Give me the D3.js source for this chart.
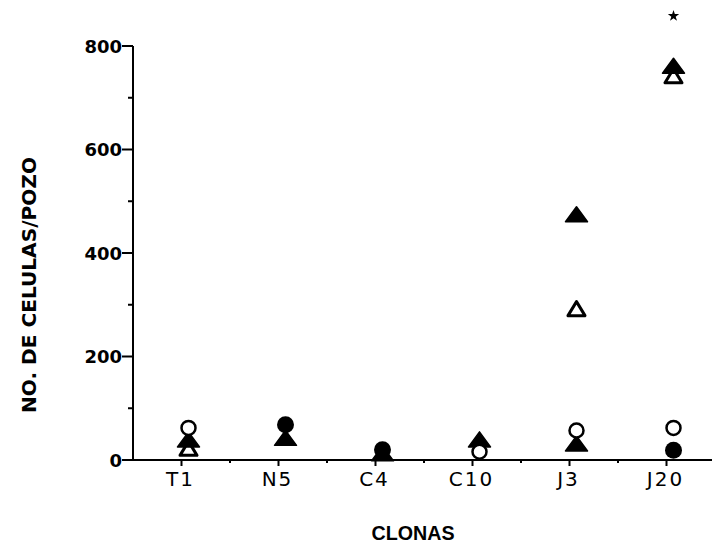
<!DOCTYPE html>
<html>
<head>
<meta charset="utf-8">
<script src="https://cdn.jsdelivr.net/npm/d3@7"></script>
<style>
  body { margin: 0; background: #fff; }
  svg { display: block; }
</style>
</head>
<body>
<div id="chart"></div>
<script>
// categories and tick labels
var clonas = ["T1", "N5", "C4", "C10", "J3", "J20"];
var yTicks = [0, 200, 400, 600, 800];
var yMinor = [100, 300, 500, 700];
// series (null = hidden behind another mark)
var openCircle   = [62, null, null, 16, 57, 62];
var filledCircle = [null, 68, 20, null, null, 19];
var openTri      = [18, null, null, null, 288, 738];
var filledTri    = [35, 38, 8, 35, 470, 757];
var filledTriLow = [null, null, null, null, 27, null];
var starAt = {clona: "J20", value: 860};

var width = 716, height = 544;

var svg = d3.select("#chart").append("svg")
    .attr("width", width).attr("height", height);

var x = d3.scalePoint().domain(clonas).range([133, 715]).padding(0.5);
var y = d3.scaleLinear().domain([0, 800]).range([460, 46]);
var shift = 7;   // marks sit a bit right of their tick

// axes lines
svg.append("line").attr("x1", 133).attr("x2", 133).attr("y1", y(800)).attr("y2", y(0))
    .attr("stroke", "#000").attr("stroke-width", 2);
svg.append("line").attr("x1", 132).attr("x2", 712).attr("y1", y(0)).attr("y2", y(0))
    .attr("stroke", "#000").attr("stroke-width", 2);

// y ticks
svg.selectAll("ymaj").data(yTicks).enter().append("line")
    .attr("x1", 122).attr("x2", 133)
    .attr("y1", function(d){ return y(d) }).attr("y2", function(d){ return y(d) })
    .attr("stroke", "#000").attr("stroke-width", 2);
svg.selectAll("ymin").data(yMinor).enter().append("line")
    .attr("x1", 128).attr("x2", 133)
    .attr("y1", function(d){ return y(d) }).attr("y2", function(d){ return y(d) })
    .attr("stroke", "#000").attr("stroke-width", 2);
svg.selectAll("ylab").data(yTicks).enter().append("text")
    .attr("x", 122).attr("y", function(d){ return y(d) + 6.5 })
    .attr("text-anchor", "end")
    .style("font-family", "DejaVu Sans, sans-serif")
    .style("font-weight", "bold").style("font-size", "18px")
    .text(function(d){ return d });

// x ticks
var step = x.step();
svg.selectAll("xmaj").data(clonas).enter().append("line")
    .attr("x1", function(d){ return x(d) }).attr("x2", function(d){ return x(d) })
    .attr("y1", y(0)).attr("y2", y(0) + 6)
    .attr("stroke", "#000").attr("stroke-width", 2);
svg.selectAll("xmin").data(clonas.slice(0, 5)).enter().append("line")
    .attr("x1", function(d){ return x(d) + step / 2 }).attr("x2", function(d){ return x(d) + step / 2 })
    .attr("y1", y(0)).attr("y2", y(0) + 3)
    .attr("stroke", "#000").attr("stroke-width", 2);
svg.selectAll("xlab").data(clonas).enter().append("text")
    .attr("x", function(d){ return x(d) - 1 }).attr("y", 486)
    .attr("text-anchor", "middle")
    .style("font-family", "DejaVu Sans, sans-serif")
    .style("font-size", "20px").style("letter-spacing", "2px")
    .text(function(d){ return d });

// titles
svg.append("text").attr("x", 413).attr("y", 540).attr("text-anchor", "middle")
    .attr("textLength", 83).attr("lengthAdjust", "spacingAndGlyphs")
    .style("font-family", "Liberation Sans, Arial, sans-serif")
    .style("font-weight", "bold").style("font-size", "21px")
    .text("CLONAS");
svg.append("text")
    .attr("transform", "translate(36,285) rotate(-90)")
    .attr("text-anchor", "middle")
    .attr("textLength", 256).attr("lengthAdjust", "spacingAndGlyphs")
    .style("font-family", "DejaVu Sans Condensed, DejaVu Sans, sans-serif")
    .style("font-stretch", "condensed")
    .style("font-weight", "bold").style("font-size", "19px")
    .text("NO. DE CELULAS/POZO");

// marks
function pts(arr) {
  return clonas.map(function(c, i){ return {c: c, v: arr[i]} })
    .filter(function(d){ return d.v !== null });
}
function tri(w, h) {
  return "M0," + (-2 * h / 3) + "L" + (w / 2) + "," + (h / 3) + "L" + (-w / 2) + "," + (h / 3) + "Z";
}
function pos(d) { return "translate(" + (x(d.c) + shift) + "," + y(d.v) + ")"; }

svg.selectAll("otri").data(pts(openTri)).enter().append("path")
    .attr("d", tri(17, 14)).attr("transform", pos)
    .attr("fill", "#fff").attr("stroke", "#000").attr("stroke-width", 3)
    .attr("stroke-linejoin", "round");
svg.selectAll("ftri").data(pts(filledTri).concat(pts(filledTriLow))).enter().append("path")
    .attr("d", tri(22, 15)).attr("transform", pos)
    .attr("fill", "#000").attr("stroke", "#000").attr("stroke-width", 1.5)
    .attr("stroke-linejoin", "round");
svg.selectAll("ocirc").data(pts(openCircle)).enter().append("circle")
    .attr("cx", function(d){ return x(d.c) + shift }).attr("cy", function(d){ return y(d.v) })
    .attr("r", 7).attr("fill", "#fff").attr("stroke", "#000").attr("stroke-width", 2.5);
svg.selectAll("fcirc").data(pts(filledCircle)).enter().append("circle")
    .attr("cx", function(d){ return x(d.c) + shift }).attr("cy", function(d){ return y(d.v) })
    .attr("r", 8.5).attr("fill", "#000");

// significance star
svg.append("path")
    .attr("d", d3.symbol().type(d3.symbolStar).size(40)())
    .attr("transform", "translate(" + (x(starAt.clona) + shift) + "," + (y(starAt.value) + 1) + ")")
    .attr("fill", "#000");
</script>
</body>
</html>
